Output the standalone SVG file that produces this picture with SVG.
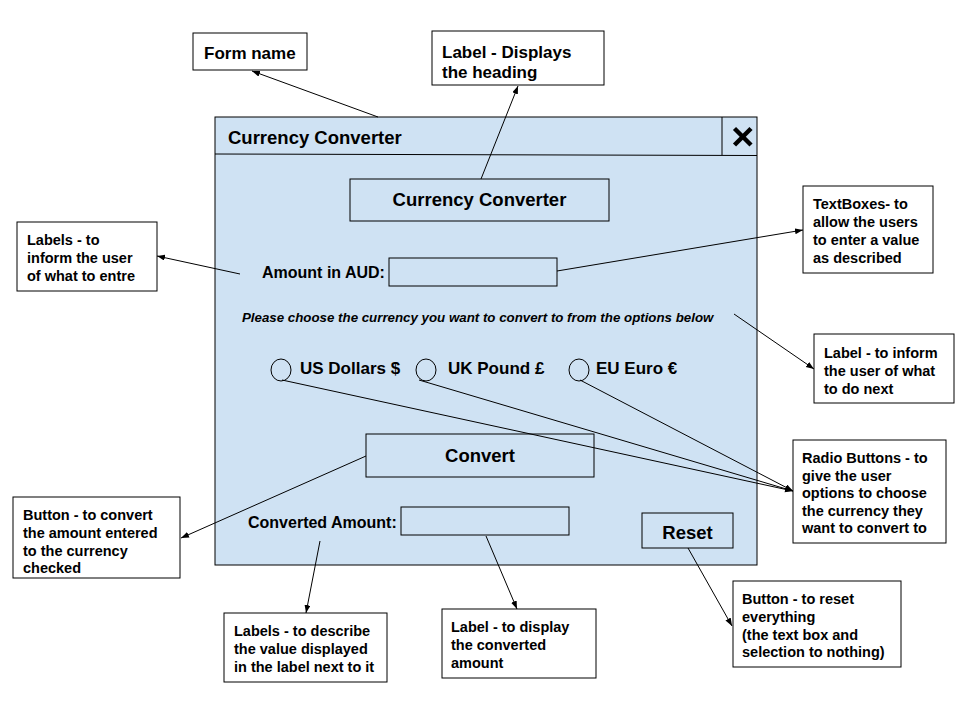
<svg xmlns="http://www.w3.org/2000/svg" width="960" height="720" viewBox="0 0 960 720">
<defs>
<marker id="ah" markerUnits="userSpaceOnUse" markerWidth="9" markerHeight="7" refX="8" refY="3" orient="auto">
<path d="M0,0 L8,3 L0,6 z" fill="#000"/>
</marker>
<style>
.box{fill:#fff;stroke:#000;stroke-width:1}
.ctl{fill:#cfe2f3;stroke:#000;stroke-width:1}
.t{font-family:"Liberation Sans",Arial,sans-serif;font-weight:bold;fill:#000}
.a{font-size:14.5px}
.b{font-size:17px}
.c{font-size:16px}
.h{font-size:18.5px}
.con line{stroke:#000;stroke-width:1;marker-end:url(#ah)}
</style>
</defs>
<rect width="960" height="720" fill="#fff"/>

<g id="form">
<rect x="215" y="117" width="542" height="448" class="ctl"/>
<line x1="215" y1="154" x2="757" y2="155.5" stroke="#000" stroke-width="1"/>
<line x1="722" y1="117" x2="722" y2="155" stroke="#000" stroke-width="1"/>
<g stroke="#000" stroke-width="4.5">
<line x1="734.5" y1="128.5" x2="751" y2="145"/>
<line x1="751" y1="128.5" x2="734.5" y2="145"/>
</g>
<text x="228" y="144" class="t h">Currency Converter</text>
</g>

<g id="heading">
<rect x="350" y="179" width="259" height="42" class="ctl"/>
<text x="479.5" y="206" class="t h" text-anchor="middle">Currency Converter</text>
</g>

<g id="amount">
<text x="262" y="278" class="t c">Amount in AUD:</text>
<rect x="389" y="258" width="168" height="28" class="ctl"/>
</g>

<g id="instruction">
<text x="242" y="322" class="t" font-style="italic" font-size="13.3px">Please choose the currency you want to convert to from the options below</text>
</g>

<g id="radios">
<ellipse cx="281" cy="370" rx="10" ry="11" class="ctl"/>
<text x="300" y="374" class="t b">US Dollars $</text>
<ellipse cx="426" cy="370" rx="10" ry="11" class="ctl"/>
<text x="448" y="374" class="t b">UK Pound £</text>
<ellipse cx="579" cy="370" rx="10" ry="11" class="ctl"/>
<text x="596" y="374" class="t b">EU Euro €</text>
</g>

<g id="convert">
<rect x="366" y="434" width="228" height="43" class="ctl"/>
<text x="480" y="461.5" class="t h" text-anchor="middle">Convert</text>
</g>

<g id="converted">
<text x="248" y="527.5" class="t c">Converted Amount:</text>
<rect x="401" y="507" width="168" height="28" class="ctl"/>
</g>

<g id="reset">
<rect x="642" y="513" width="91" height="35" class="ctl"/>
<text x="687.5" y="538.5" class="t h" text-anchor="middle">Reset</text>
</g>

<g id="n-formname">
<rect x="193" y="33" width="114" height="37" class="box"/>
<text x="204" y="59" class="t b">Form name</text>
</g>

<g id="n-heading">
<rect x="432" y="31" width="172" height="54" class="box"/>
<text x="442" y="58" class="t b">Label - Displays</text>
<text x="442" y="78" class="t b">the heading</text>
</g>

<g id="n-labels-inform">
<rect x="17" y="222" width="140" height="69" class="box"/>
<text class="t a"><tspan x="27" y="245">Labels - to</tspan><tspan x="27" y="263">inform the user</tspan><tspan x="27" y="281">of what to entre</tspan></text>
</g>

<g id="n-textboxes">
<rect x="803" y="186" width="130" height="87" class="box"/>
<text class="t a"><tspan x="813" y="209">TextBoxes- to</tspan><tspan x="813" y="227">allow the users</tspan><tspan x="813" y="245">to enter a value</tspan><tspan x="813" y="263">as described</tspan></text>
</g>

<g id="n-label-inform">
<rect x="814" y="334" width="140" height="69" class="box"/>
<text class="t a"><tspan x="824" y="358">Label - to inform</tspan><tspan x="824" y="376">the user of what</tspan><tspan x="824" y="394">to do next</tspan></text>
</g>

<g id="n-radio">
<rect x="793" y="440" width="153" height="103" class="box"/>
<text class="t a"><tspan x="802" y="463">Radio Buttons - to</tspan><tspan x="802" y="480.5">give the user</tspan><tspan x="802" y="498">options to choose</tspan><tspan x="802" y="515.5">the currency they</tspan><tspan x="802" y="533">want to convert to</tspan></text>
</g>

<g id="n-button-convert">
<rect x="13" y="497" width="167" height="81" class="box"/>
<text class="t a"><tspan x="23" y="520">Button - to convert</tspan><tspan x="23" y="538">the amount entered</tspan><tspan x="23" y="555.5">to the currency</tspan><tspan x="23" y="573">checked</tspan></text>
</g>

<g id="n-button-reset">
<rect x="733" y="581" width="168" height="86" class="box"/>
<text class="t a"><tspan x="742" y="604">Button - to reset</tspan><tspan x="742" y="622">everything</tspan><tspan x="742" y="639.5">(the text box and</tspan><tspan x="742" y="657">selection to nothing)</tspan></text>
</g>

<g id="n-labels-describe">
<rect x="224" y="613" width="163" height="69" class="box"/>
<text class="t a"><tspan x="234" y="636">Labels - to describe</tspan><tspan x="234" y="654">the value displayed</tspan><tspan x="234" y="672">in the label next to it</tspan></text>
</g>

<g id="n-label-display">
<rect x="442" y="609" width="154" height="69" class="box"/>
<text class="t a"><tspan x="451" y="632">Label - to display</tspan><tspan x="451" y="650">the converted</tspan><tspan x="451" y="668">amount</tspan></text>
</g>

<g id="connectors" class="con">
<line x1="378" y1="117" x2="252" y2="71"/>
<line x1="481" y1="179" x2="518" y2="86"/>
<line x1="240" y1="274" x2="157" y2="256"/>
<line x1="557" y1="271" x2="803" y2="230"/>
<line x1="734" y1="314" x2="814" y2="369"/>
<line x1="282" y1="380" x2="793" y2="491"/>
<line x1="419" y1="380" x2="793" y2="491"/>
<line x1="580" y1="380" x2="793" y2="491"/>
<line x1="366" y1="456" x2="181" y2="538"/>
<line x1="320" y1="541" x2="306" y2="613"/>
<line x1="486" y1="536" x2="517" y2="609"/>
<line x1="688" y1="548" x2="732" y2="626"/>
</g>
</svg>
